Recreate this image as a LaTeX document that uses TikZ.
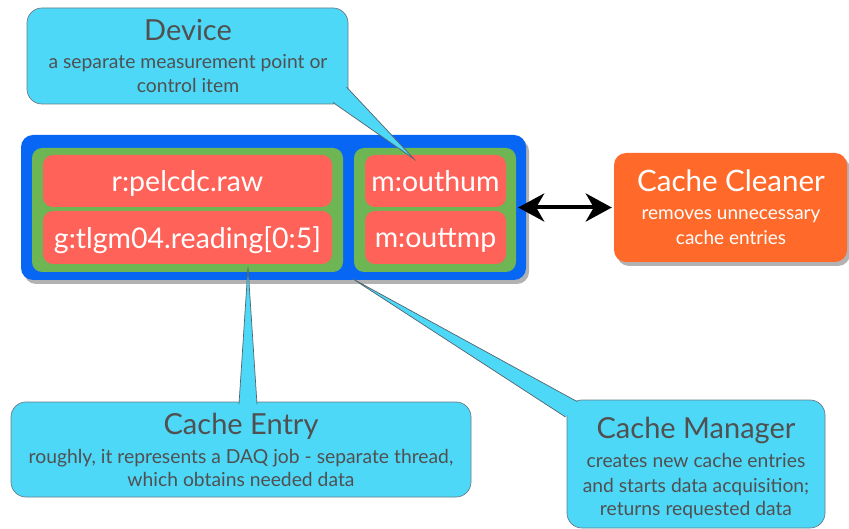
\documentclass[tikz,border=0pt]{standalone}
\usepackage{fontspec}
\setmainfont{Lato}
\usetikzlibrary{shadows,arrows.meta}
\definecolor{bluebox}{RGB}{8,102,244}
\definecolor{greenbox}{RGB}{110,181,84}
\definecolor{redbox}{RGB}{255,98,88}
\definecolor{orangebox}{RGB}{255,106,42}
\definecolor{cyanbox}{RGB}{78,216,248}
\definecolor{callborder}{RGB}{105,125,135}
\definecolor{calltext}{RGB}{80,80,80}
\tikzset{
  shad/.style={drop shadow={shadow xshift=3pt,shadow yshift=-4pt,opacity=0.3,fill=black}},
  bluebg/.style={fill=bluebox,rounded corners=12pt,minimum width=505pt,minimum height=145pt,inner sep=0pt,shad},
  greenbg/.style={fill=greenbox,rounded corners=10pt,minimum height=124pt,inner sep=0pt},
  redbg/.style={fill=redbox,rounded corners=10pt,inner sep=0pt},
  cleanerbg/.style={fill=orangebox,rounded corners=12pt,minimum width=233pt,minimum height=109pt,inner sep=0pt,shad},
  callbox/.style={fill=cyanbox,draw=callborder,line width=0.7pt,rounded corners=15pt,inner sep=0pt},
  calltail/.style={fill=cyanbox},
  tailedge/.style={draw=callborder!80!black,line width=0.7pt},
  redtxt/.style={text=white,font=\fontsize{28.5}{30}\selectfont,anchor=base,inner sep=0pt},
  whitetitle/.style={text=white,font=\fontsize{29.5}{31}\selectfont,anchor=base,inner sep=0pt},
  whitesub/.style={text=white,font=\fontsize{19}{21}\selectfont,anchor=base,inner sep=0pt},
  calltitle/.style={text=calltext,font=\fontsize{29}{31}\selectfont,anchor=base,inner sep=0pt},
  callsub/.style={text=calltext,font=\fontsize{19.3}{21}\selectfont,anchor=base,inner sep=0pt},
  bigarrow/.style={{Stealth[length=26pt,width=28pt,inset=8pt]}-{Stealth[length=26pt,width=28pt,inset=8pt]},line width=4pt,black},
}
\begin{document}
\begin{tikzpicture}[x=1pt,y=-1pt]
\useasboundingbox (0,0) rectangle (849,529);
% main container
\node[bluebg] (blue) at (273.5,207.5) {};
\node[greenbg,minimum width=311pt] (gleft) at (187.5,210) {};
\node[greenbg,minimum width=162pt] (gright) at (435,210) {};
\node[redbg,minimum width=289pt,minimum height=52pt] (r1) at (187.5,181) {};
\node[redbg,minimum width=289pt,minimum height=53pt] (r2) at (187.5,237.5) {};
\node[redbg,minimum width=141pt,minimum height=52pt] (r3) at (435.5,181) {};
\node[redbg,minimum width=141pt,minimum height=53pt] (r4) at (435.5,237.5) {};
\node[redtxt] (t1) at (187.5,192) {r:pelcdc.raw};
\node[redtxt] (t2) at (187.5,249) {g:tlgm04.reading[0:5]};
\node[redtxt] (t3) at (435.5,192) {m:outhum};
\node[redtxt] (t4) at (435.5,248) {m:outtmp};
% cleaner
\node[cleanerbg] (cleaner) at (730.5,207.5) {};
\node[whitetitle] (ct) at (731,192) {Cache Cleaner};
\node[whitesub] (cs1) at (731,220) {removes unnecessary};
\node[whitesub] (cs2) at (731,245) {cache entries};
\draw[bigarrow,shorten <=-8pt,shorten >=2pt] (blue.east) -- (cleaner.west);
% callouts
\node[callbox,minimum width=321pt,minimum height=96pt] (dev) at (187.5,56) {};
\node[callbox,minimum width=460pt,minimum height=95pt] (entry) at (241,449.5) {};
\node[callbox,minimum width=258pt,minimum height=128pt] (mgr) at (696,464) {};
% tails
\coordinate (dA) at (333,102.5);
\coordinate (dB) at (346.5,87);
\coordinate (dT) at (414,159);
\fill[calltail] (dA) -- (dT) -- (dB) -- (338,96) -- cycle;
\draw[tailedge] (dA) -- (dT) -- (dB);
\coordinate (eA) at (239,404);
\coordinate (eB) at (257,404);
\coordinate (eT) at (248,267);
\fill[calltail] (eA) -- (eT) -- (eB) -- cycle;
\draw[tailedge] (eA) -- (eT) -- (eB);
\coordinate (mA) at (565.5,417);
\coordinate (mB) at (577,401.5);
\coordinate (mT) at (353,279);
\fill[calltail] (mA) -- (mT) -- (mB) -- (574,410) -- cycle;
\draw[tailedge] (mA) -- (mT) -- (mB);
% callout texts
\node[calltitle] (dt) at (188,41) {Device};
\node[callsub] (ds1) at (188,69) {a separate measurement point or};
\node[callsub] (ds2) at (188,93) {control item};
\node[calltitle] (et) at (241,434) {Cache Entry};
\node[callsub] (es1) at (241,463) {roughly, it represents a DAQ job - separate thread,};
\node[callsub] (es2) at (241,486) {which obtains needed data};
\node[calltitle] (mt) at (696,438) {Cache Manager};
\node[callsub] (ms1) at (696,467) {creates new cache entries};
\node[callsub] (ms2) at (696,492) {and starts data acquisition;};
\node[callsub] (ms3) at (696,515) {returns requested data};
\end{tikzpicture}
\end{document}
